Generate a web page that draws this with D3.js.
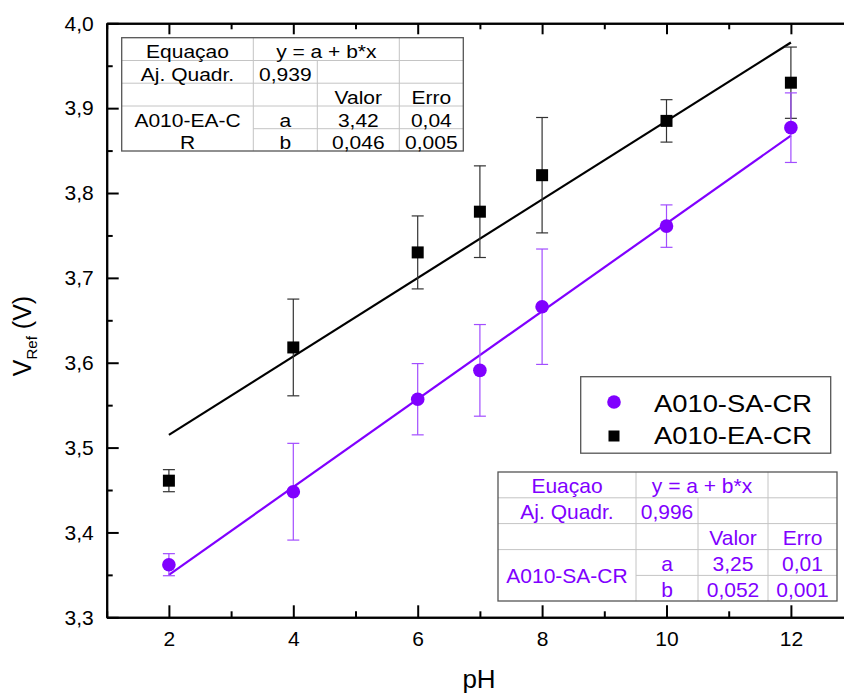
<!DOCTYPE html>
<html>
<head>
<meta charset="utf-8">
<script src="https://cdn.jsdelivr.net/npm/d3@7"></script>
<style>
  html, body { margin: 0; padding: 0; background: #fff; }
  svg { display: block; }
  text { font-family: "Liberation Sans", Arial, sans-serif; }
</style>
</head>
<body>
<svg id="chart" width="844" height="696"></svg>
<script>
// pH calibration of the reference electrodes
const phValues = [2, 4, 6, 7, 8, 10, 12];

const seriesNames = ["A010-SA-CR", "A010-EA-CR"];
const vrefSA = [3.362, 3.448, 3.557, 3.591, 3.666, 3.761, 3.877];
const errSA  = [0.013, 0.057, 0.042, 0.054, 0.068, 0.025, 0.041];
const vrefEA = [3.461, 3.618, 3.730, 3.778, 3.821, 3.885, 3.930];
const errEA  = [0.013, 0.057, 0.043, 0.054, 0.068, 0.025, 0.042];

const xTicks = [2, 4, 6, 8, 10, 12];
const xMinorTicks = [1, 3, 5, 7, 9, 11, 13];
const yTicks = [3.3, 3.4, 3.5, 3.6, 3.7, 3.8, 3.9, 4.0];
const yMinorTicks = [3.35, 3.45, 3.55, 3.65, 3.75, 3.85, 3.95];

// fit statistics not derived here (adj. R² and parameter errors)
const statsEA = { adjR2: "0,939", errA: "0,04", errB: "0,005" };
const statsSA = { adjR2: "0,996", errA: "0,01", errB: "0,001" };

const PURPLE = "#8000ff";
const comma = s => s.replace(".", ",");

// ordinary least squares fit y = a + b*x
function linearFit(xs, ys) {
  const mx = d3.mean(xs), my = d3.mean(ys);
  const sxy = d3.sum(xs, (v, i) => (v - mx) * (ys[i] - my));
  const sxx = d3.sum(xs, v => (v - mx) * (v - mx));
  const b = sxy / sxx;
  return { a: my - b * mx, b };
}
const fitSA = linearFit(phValues, vrefSA);
const fitEA = linearFit(phValues, vrefEA);

const svg = d3.select("#chart");
const plotLeft = 106.7, plotTop = 23.3, plotBottom = 617.3;
const x = d3.scaleLinear().domain([1, 13]).range([plotLeft, plotLeft + 12 * 62.2]);
const y = d3.scaleLinear().domain([3.3, 4.0]).range([plotBottom, plotTop]);

function label(g, px, py, str, o) {
  return g.append("text")
    .attr("transform", `translate(${px},${py}) scale(${o.sx || 1},${o.sy || 1})`)
    .attr("text-anchor", o.anchor || "middle")
    .attr("fill", o.color || "#000")
    .style("font-size", o.size + "px")
    .text(str);
}

// ---- axes ----
const axes = svg.append("g");
const fmt = d => comma(d3.format(".1f")(d));

axes.append("g").attr("transform", `translate(${plotLeft},0)`)
  .call(d3.axisLeft(y).tickValues(yTicks).tickFormat(fmt).tickSizeInner(-12).tickSizeOuter(0).tickPadding(13));
axes.append("g").attr("transform", `translate(${plotLeft},0)`)
  .call(d3.axisLeft(y).tickValues(yMinorTicks).tickFormat("").tickSizeInner(-6).tickSizeOuter(0));
axes.append("g").attr("transform", `translate(0,${plotBottom})`)
  .call(d3.axisBottom(x).tickValues(xTicks).tickFormat(d3.format("d")).tickSizeInner(-12).tickSizeOuter(0).tickPadding(14));
axes.append("g").attr("transform", `translate(0,${plotBottom})`)
  .call(d3.axisBottom(x).tickValues(xMinorTicks).tickFormat("").tickSizeInner(-6).tickSizeOuter(0));
axes.append("g").attr("transform", `translate(0,${plotTop})`)
  .call(d3.axisTop(x).tickValues(xTicks).tickFormat("").tickSizeInner(-11).tickSizeOuter(0));
axes.append("g").attr("transform", `translate(0,${plotTop})`)
  .call(d3.axisTop(x).tickValues(xMinorTicks).tickFormat("").tickSizeInner(-6).tickSizeOuter(0));

axes.selectAll(".domain").attr("stroke", "#000").attr("stroke-width", 2);
axes.selectAll(".tick line").attr("stroke", "#000").attr("stroke-width", 2);
axes.selectAll(".tick text")
  .attr("fill", "#000")
  .style("font-size", "21px")
  .style("font-family", "\"Liberation Sans\", Arial, sans-serif");

// axis titles
label(svg, 479, 688, "pH", { size: 26 });
const yTitle = svg.append("text")
  .attr("transform", "translate(31,336) rotate(-90)")
  .attr("text-anchor", "middle")
  .style("font-size", "25px");
yTitle.append("tspan").text("V");
yTitle.append("tspan").attr("dy", 6).style("font-size", "15px").text("Ref");
yTitle.append("tspan").attr("dy", -6).text(" (V)");

// ---- fit lines ----
const plot = svg.append("g");
const line = d3.line().x(d => x(d[0])).y(d => y(d[1]));
const xEnds = [phValues[0], phValues[phValues.length - 1]];
plot.append("path")
  .attr("d", line(xEnds.map(p => [p, fitEA.a + fitEA.b * p])))
  .attr("stroke", "#000").attr("stroke-width", 2.2).attr("fill", "none");
plot.append("path")
  .attr("d", line(xEnds.map(p => [p, fitSA.a + fitSA.b * p])))
  .attr("stroke", PURPLE).attr("stroke-width", 2.2).attr("fill", "none");

// ---- error bars ----
function errorBars(vals, errs, color, width) {
  const g = plot.append("g").attr("stroke", color).attr("stroke-width", width);
  phValues.forEach((p, i) => {
    const cx = x(p), y0 = y(vals[i] - errs[i]), y1 = y(vals[i] + errs[i]);
    g.append("line").attr("x1", cx).attr("x2", cx).attr("y1", y0).attr("y2", y1);
    g.append("line").attr("x1", cx - 6).attr("x2", cx + 6).attr("y1", y0).attr("y2", y0);
    g.append("line").attr("x1", cx - 6).attr("x2", cx + 6).attr("y1", y1).attr("y2", y1);
  });
}
errorBars(vrefEA, errEA, "#333", 1.2);
errorBars(vrefSA, errSA, "#a24dff", 1.2);

// ---- markers ----
plot.append("g").selectAll("rect").data(phValues).join("rect")
  .attr("x", d => x(d) - 6).attr("y", (d, i) => y(vrefEA[i]) - 6)
  .attr("width", 12).attr("height", 12).attr("fill", "#000");
plot.append("g").selectAll("circle").data(phValues).join("circle")
  .attr("cx", d => x(d)).attr("cy", (d, i) => y(vrefSA[i]))
  .attr("r", 6.8).attr("fill", PURPLE);

// ---- fit parameter tables ----
function fitTable(colX, rowY, rows, merged, o) {
  const g = svg.append("g");
  const [x0, x1, x2, x3, x4] = colX;
  const yB = rowY[rowY.length - 1];
  g.append("rect").attr("x", x0).attr("y", rowY[0]).attr("width", x4 - x0).attr("height", yB - rowY[0])
    .attr("fill", "#fff").attr("stroke", "none");
  const inner = g.append("g").attr("stroke", "#c4c4c4").attr("stroke-width", 1);
  inner.append("line").attr("x1", x1).attr("x2", x1).attr("y1", rowY[0]).attr("y2", yB);
  inner.append("line").attr("x1", x2).attr("x2", x2).attr("y1", rowY[1]).attr("y2", yB);
  inner.append("line").attr("x1", x3).attr("x2", x3).attr("y1", rowY[0]).attr("y2", yB);
  [1, 2, 3].forEach(r => inner.append("line").attr("x1", x0).attr("x2", x4).attr("y1", rowY[r]).attr("y2", rowY[r]));
  inner.append("line").attr("x1", x1).attr("x2", x4).attr("y1", rowY[4]).attr("y2", rowY[4]);
  g.append("rect").attr("x", x0).attr("y", rowY[0]).attr("width", x4 - x0).attr("height", yB - rowY[0])
    .attr("fill", "none").attr("stroke", "#555").attr("stroke-width", 1.3);

  const centers = [(x0 + x1) / 2, (x1 + x2) / 2, (x2 + x3) / 2, (x3 + x4) / 2];
  rows.forEach((row, r) => {
    row.forEach((txt, c) => {
      if (!txt) return;
      let cx = centers[c];
      if (r === 0 && c === 1) cx = (x1 + x3) / 2;
      label(g, cx, rowY[r] + o.base, txt, o);
    });
  });
  merged.forEach(m => label(g, centers[0], m.y, m.text, o));
}

// black series (upper left)
const rowsEA = [
  ["Equaçao", "y = a + b*x", "", ""],
  ["Aj. Quadr.", statsEA.adjR2, "", ""],
  ["", "", "Valor", "Erro"],
  ["A010-EA-C", "a", comma(fitEA.a.toFixed(2)), statsEA.errA],
  ["R", "b", comma(fitEA.b.toFixed(3)), statsEA.errB]
];
fitTable([121.7, 253.3, 317.3, 399.3, 463.3], [37.7, 60.5, 83.2, 106, 128.7, 151],
  rowsEA, [], { size: 21, sy: 0.88, base: 20.6, color: "#000" });

// purple series (lower right)
const rowsSA = [
  ["Euaçao", "y = a + b*x", "", ""],
  ["Aj. Quadr.", statsSA.adjR2, "", ""],
  ["", "", "Valor", "Erro"],
  ["", "a", comma(fitSA.a.toFixed(2)), statsSA.errA],
  ["", "b", comma(fitSA.b.toFixed(3)), statsSA.errB]
];
fitTable([498, 636, 698, 768, 837], [472, 497.8, 523.6, 549.6, 575.4, 601],
  rowsSA, [{ text: "A010-SA-CR", y: 583 }], { size: 21, base: 21.3, color: PURPLE });

// ---- legend ----
const legend = svg.append("g");
legend.append("rect").attr("x", 580.7).attr("y", 376.7).attr("width", 250).attr("height", 76.5)
  .attr("fill", "#fff").attr("stroke", "#555").attr("stroke-width", 1.3);
legend.append("circle").attr("cx", 614).attr("cy", 402).attr("r", 6.8).attr("fill", PURPLE);
legend.append("rect").attr("x", 608.5).attr("y", 430.5).attr("width", 11).attr("height", 11).attr("fill", "#000");
label(legend, 654, 412, seriesNames[0], { size: 24, sx: 1.14, anchor: "start" });
label(legend, 654, 443.5, seriesNames[1], { size: 24, sx: 1.14, anchor: "start" });
</script>
</body>
</html>
